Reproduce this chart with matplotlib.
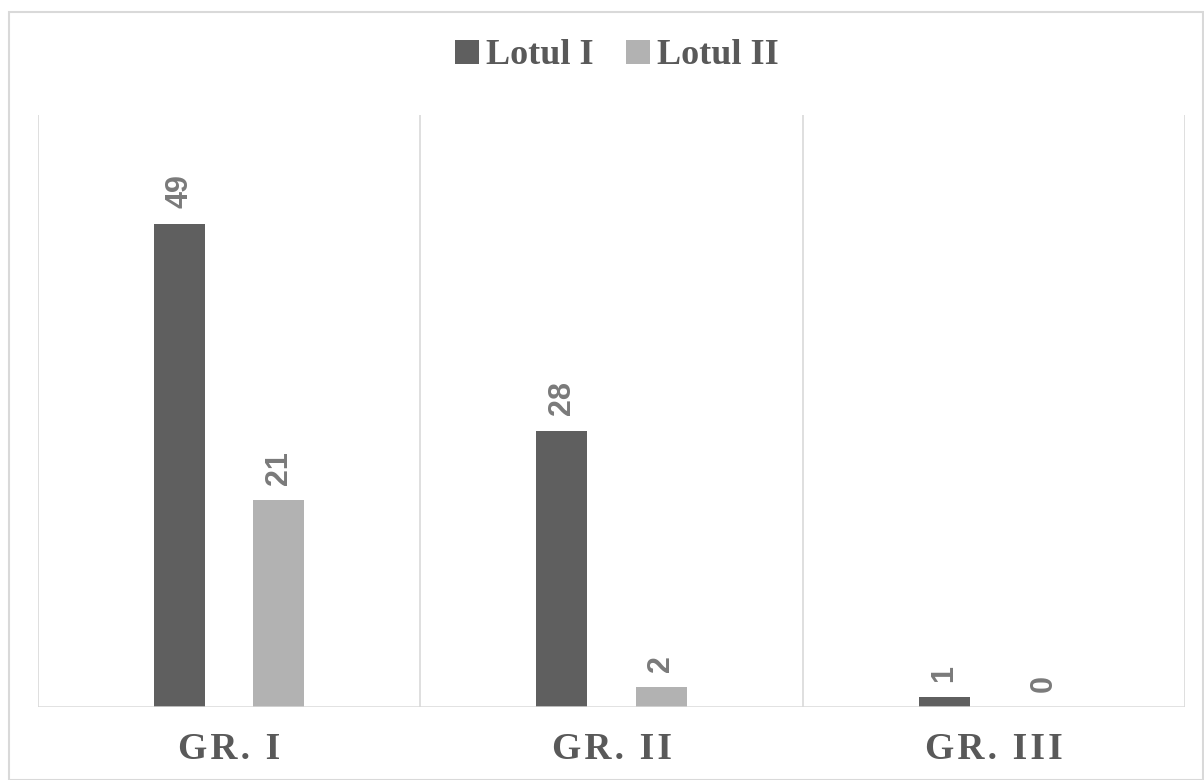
import numpy as np
import matplotlib
matplotlib.use("Agg")
import matplotlib.pyplot as plt
from matplotlib.patches import Rectangle

groups = ["GR. I", "GR. II", "GR. III"]
lot1 = [49, 28, 1]
lot2 = [21, 2, 0]
series = ["Lotul I", "Lotul II"]

c_dark = "#5f5f5f"
c_light = "#b2b2b2"
c_text = "#595959"
c_grid = "#d9d9d9"

fig = plt.figure(figsize=(12.04, 7.80), dpi=100)
fig.patches.append(Rectangle((9 / 1204, 0), 1194 / 1204, 768 / 780, transform=fig.transFigure,
                             fill=False, edgecolor=c_grid, linewidth=1.5))
ax = fig.add_axes([38 / 1204, 73 / 780, 1147 / 1204, 592 / 780])

x = np.arange(len(groups))
w = 0.134
off = 0.13
b1 = ax.bar(x - off, lot1, w, color=c_dark, label=series[0])
b2 = ax.bar(x + off, lot2, w, color=c_light, label=series[1])

for bars in (b1, b2):
    for r in bars:
        v = r.get_height()
        ax.annotate(str(int(v)), (r.get_x() + r.get_width() / 2, v), xytext=(0, 11),
                    textcoords="offset points", rotation=90, ha="center", va="bottom",
                    fontsize=22, fontweight="bold", color="#7a7a7a", family="Liberation Sans")

ax.set_xlim(-0.5, 2.5)
ax.set_ylim(0, 60)
for xb in [-0.5, 0.5, 1.5, 2.5]:
    ax.axvline(xb, color=c_grid, linewidth=1.2, zorder=0)
ax.axhline(0, color=c_grid, linewidth=1.8, zorder=3)
for s in ax.spines.values():
    s.set_visible(False)
ax.set_yticks([])
ax.set_xticks(x)
# spread letters a little, like the original
spaced = ["\u200a".join(g) for g in groups]
ax.set_xticklabels(spaced, family="Liberation Serif", fontweight="bold", fontsize=27, color=c_text)
ax.tick_params(axis="x", length=0, pad=18)

leg = fig.legend(loc="center", bbox_to_anchor=(617 / 1204, 1 - 56 / 780), ncol=2, frameon=False,
                 prop={"family": "Liberation Serif", "weight": "bold", "size": 26},
                 handlelength=0.65, handleheight=0.65, handletextpad=0.2, columnspacing=0.9)
for t in leg.get_texts():
    t.set_color(c_text)

fig.savefig("out.png", dpi=100)
